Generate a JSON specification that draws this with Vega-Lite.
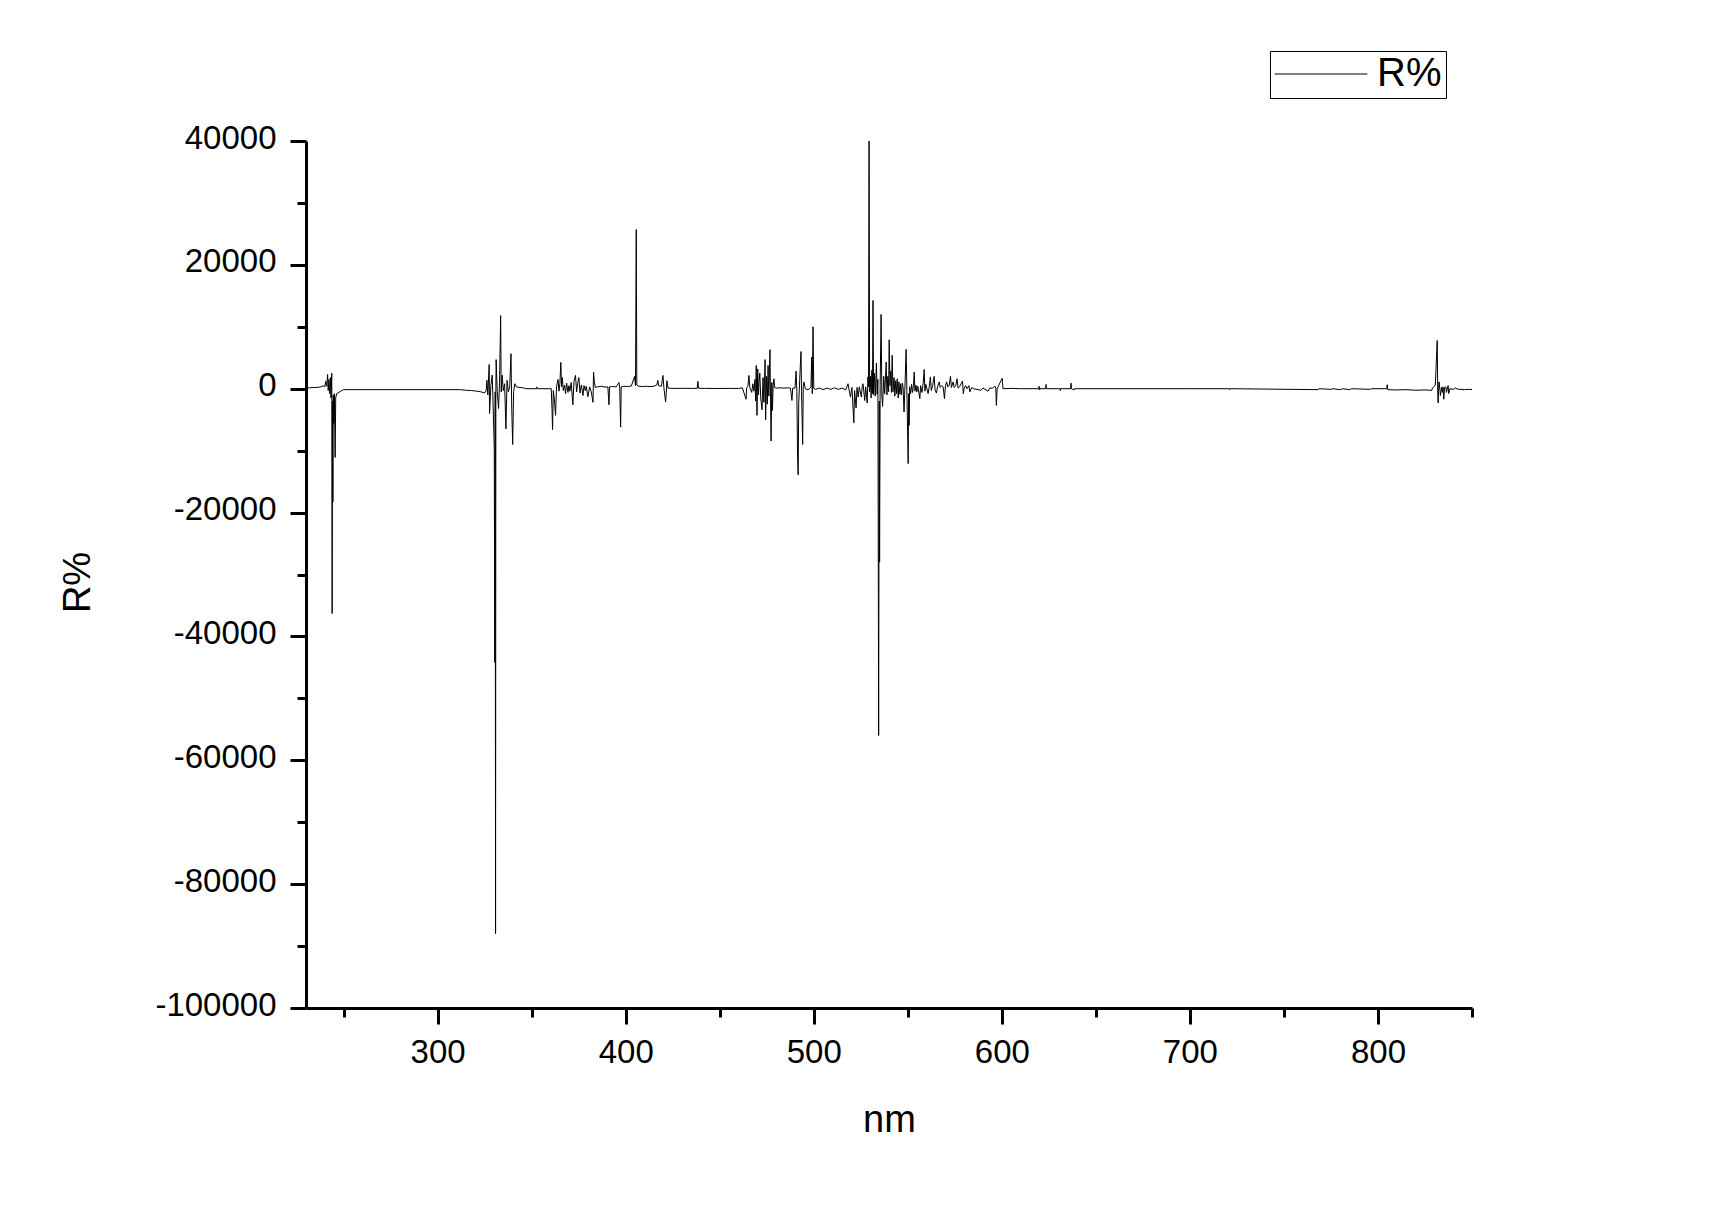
{
  "$schema": "https://vega.github.io/schema/vega-lite/v6.json",
  "autosize": {"type": "none"},
  "width": 1166,
  "height": 867,
  "padding": {"left": 306, "top": 141, "right": 238, "bottom": 201},
  "background": "white",
  "config": {
    "view": {"stroke": null},
    "font": "Liberation Sans",
    "axis": {
      "domainColor": "black",
      "domainWidth": 3,
      "tickColor": "black",
      "tickWidth": 3,
      "labelColor": "black",
      "titleColor": "black",
      "labelFont": "Liberation Sans",
      "titleFont": "Liberation Sans",
      "labelFontSize": 33,
      "titleFontSize": 38,
      "titleFontWeight": "normal",
      "grid": false,
      "labelFlush": false,
      "labelOverlap": false
    }
  },
  "data": {"values": [
    {"nm":230,"R":100},{"nm":232,"R":150},{"nm":234,"R":200},{"nm":236,"R":200},{"nm":238,"R":300},{"nm":239,"R":500},{"nm":240,"R":300},{"nm":240.5,"R":1200},{"nm":241,"R":400},{"nm":241.5,"R":2300},{"nm":241.8,"R":-300},{"nm":242.2,"R":1500},{"nm":242.6,"R":-800},{"nm":243,"R":1800},{"nm":243.3,"R":-1500},{"nm":243.7,"R":2500},{"nm":243.9,"R":-36300},{"nm":244.1,"R":-2000},{"nm":244.3,"R":-18300},{"nm":244.5,"R":-1000},{"nm":244.8,"R":-5600},{"nm":245.1,"R":-800},{"nm":245.5,"R":-11100},{"nm":245.8,"R":-1500},{"nm":246.3,"R":-800},{"nm":247,"R":-700},{"nm":248,"R":-500},{"nm":249,"R":-300},{"nm":250,"R":-150},
    {"nm":312,"R":-150},{"nm":315,"R":-250},{"nm":318,"R":-300},{"nm":321,"R":-400},{"nm":323,"R":-500},{"nm":325,"R":-700},{"nm":325.8,"R":-300},{"nm":326.2,"R":1350},{"nm":326.7,"R":-1000},{"nm":327.4,"R":3900},{"nm":327.6,"R":-4000},{"nm":328.3,"R":500},{"nm":329,"R":2200},{"nm":329.4,"R":-1500},{"nm":330.1,"R":-9700},{"nm":330.4,"R":-44200},{"nm":330.6,"R":-500},{"nm":330.8,"R":-88000},{"nm":330.95,"R":-1000},{"nm":331.1,"R":4700},{"nm":331.7,"R":-500},{"nm":332.4,"R":-3200},{"nm":332.9,"R":1000},{"nm":333.5,"R":11800},{"nm":333.8,"R":-500},{"nm":334.3,"R":2200},{"nm":334.9,"R":-300},{"nm":335.6,"R":800},{"nm":336.3,"R":-6500},{"nm":336.9,"R":1350},{"nm":337.6,"R":-500},{"nm":338.3,"R":300},{"nm":339,"R":5650},{"nm":339.4,"R":-3200},{"nm":339.9,"R":-9000},{"nm":340.4,"R":-500},{"nm":341,"R":800},{"nm":341.9,"R":300},{"nm":343.7,"R":200},{"nm":345.5,"R":150},{"nm":347,"R":0},{"nm":352.5,"R":0},{"nm":352.7,"R":300},{"nm":352.9,"R":0},
    {"nm":360.4,"R":0},{"nm":360.8,"R":-3200},{"nm":361.1,"R":-6600},{"nm":361.5,"R":-300},{"nm":362,"R":-1500},{"nm":362.7,"R":-4300},{"nm":363.2,"R":300},{"nm":364,"R":1500},{"nm":364.5,"R":-400},{"nm":365,"R":800},{"nm":365.5,"R":4250},{"nm":365.9,"R":300},{"nm":366.3,"R":1800},{"nm":366.8,"R":-300},{"nm":367.5,"R":600},{"nm":368,"R":-800},{"nm":368.6,"R":900},{"nm":369.3,"R":-600},{"nm":369.8,"R":500},{"nm":370.3,"R":-400},{"nm":371,"R":1000},{"nm":371.9,"R":-2600},{"nm":372.5,"R":1200},{"nm":373.3,"R":2150},{"nm":373.9,"R":-500},{"nm":374.4,"R":800},{"nm":375.1,"R":1800},{"nm":375.7,"R":-700},{"nm":376.4,"R":600},{"nm":377.3,"R":-1100},{"nm":377.8,"R":500},{"nm":378.5,"R":-300},{"nm":379,"R":400},{"nm":379.9,"R":-1300},{"nm":380.8,"R":300},{"nm":381.7,"R":-500},{"nm":382.6,"R":-2200},{"nm":382.9,"R":2700},{"nm":383.3,"R":1200},{"nm":383.8,"R":200},
    {"nm":385,"R":300},{"nm":387,"R":400},{"nm":389,"R":250},{"nm":390.5,"R":300},{"nm":391.1,"R":-2600},{"nm":391.4,"R":300},{"nm":393,"R":350},{"nm":395,"R":300},{"nm":396.4,"R":1000},{"nm":396.8,"R":300},{"nm":397.3,"R":-6200},{"nm":397.6,"R":300},{"nm":399,"R":400},{"nm":401,"R":350},{"nm":403,"R":450},{"nm":404.7,"R":2000},{"nm":405.2,"R":500},{"nm":405.6,"R":25700},{"nm":405.9,"R":600},{"nm":407,"R":400},{"nm":409,"R":350},{"nm":411,"R":400},{"nm":413,"R":350},{"nm":415,"R":400},{"nm":416.5,"R":600},{"nm":417.1,"R":1350},{"nm":417.5,"R":500},{"nm":419,"R":400},{"nm":419.8,"R":2150},{"nm":420.3,"R":200},{"nm":421.2,"R":-2150},{"nm":421.6,"R":-600},{"nm":421.9,"R":1300},{"nm":422.5,"R":100},{"nm":425,"R":50},{"nm":430,"R":60},{"nm":435,"R":50},{"nm":438,"R":60},{"nm":438.4,"R":1200},{"nm":438.7,"R":80},{"nm":442,"R":50},{"nm":448,"R":40},{"nm":455,"R":50},{"nm":460,"R":40},
    {"nm":462,"R":150},{"nm":464,"R":-1700},{"nm":464.3,"R":100},{"nm":465,"R":400},{"nm":465.5,"R":2150},{"nm":466,"R":200},{"nm":467,"R":-600},{"nm":467.6,"R":800},{"nm":468.2,"R":-400},{"nm":468.7,"R":1500},{"nm":469.1,"R":-2000},{"nm":469.4,"R":3750},{"nm":469.8,"R":-4300},{"nm":470.2,"R":3200},{"nm":470.6,"R":-1000},{"nm":470.9,"R":1200},{"nm":471.3,"R":2500},{"nm":471.8,"R":-1500},{"nm":472.5,"R":-3400},{"nm":473,"R":1800},{"nm":473.5,"R":-2200},{"nm":474.1,"R":4700},{"nm":474.4,"R":-5000},{"nm":474.9,"R":2000},{"nm":475.3,"R":-2500},{"nm":475.7,"R":3750},{"nm":476.1,"R":-1200},{"nm":476.7,"R":6300},{"nm":477,"R":-1500},{"nm":477.3,"R":-8450},{"nm":477.7,"R":1000},{"nm":478,"R":-3500},{"nm":478.4,"R":500},{"nm":478.8,"R":1600},{"nm":479.2,"R":200},{"nm":480,"R":100},{"nm":482,"R":150},{"nm":484,"R":100},{"nm":486,"R":150},{"nm":487.6,"R":100},{"nm":488.4,"R":-1900},{"nm":488.8,"R":100},{"nm":490,"R":100},{"nm":490.6,"R":2850},{"nm":491,"R":-500},{"nm":491.4,"R":-11300},{"nm":491.7,"R":-13900},{"nm":492,"R":-2300},{"nm":492.5,"R":1350},{"nm":493.2,"R":6000},{"nm":493.5,"R":-500},{"nm":493.8,"R":-4600},{"nm":494.1,"R":-9000},{"nm":494.4,"R":300},{"nm":494.8,"R":1100},{"nm":495.5,"R":0},{"nm":497,"R":-200},{"nm":498.5,"R":300},{"nm":498.9,"R":5100},{"nm":499.2,"R":-800},{"nm":499.6,"R":10000},{"nm":500,"R":0},
    {"nm":501,"R":-100},{"nm":503,"R":100},{"nm":505,"R":-150},{"nm":507,"R":100},{"nm":509,"R":-100},{"nm":511,"R":150},{"nm":513,"R":-100},{"nm":515,"R":100},{"nm":517,"R":-200},{"nm":518.2,"R":800},{"nm":519.5,"R":-1350},{"nm":520.3,"R":200},{"nm":521.3,"R":-5500},{"nm":521.7,"R":-300},{"nm":522.5,"R":-3100},{"nm":523,"R":200},{"nm":523.6,"R":-1350},{"nm":524.2,"R":300},{"nm":525.3,"R":-1350},{"nm":525.8,"R":500},{"nm":526.2,"R":800},{"nm":527.1,"R":-1900},{"nm":527.6,"R":300},{"nm":528.4,"R":-2300},{"nm":528.8,"R":1900},{"nm":529.1,"R":300},{"nm":529.4,"R":40000},{"nm":529.7,"R":-500},{"nm":530.1,"R":2000},{"nm":530.5,"R":-1500},{"nm":530.9,"R":3000},{"nm":531.2,"R":-800},{"nm":531.5,"R":14250},{"nm":531.8,"R":-1000},{"nm":532.2,"R":2500},{"nm":532.7,"R":-1200},{"nm":533.3,"R":4150},{"nm":533.7,"R":-900},{"nm":534.1,"R":1500},{"nm":534.5,"R":-56000},{"nm":534.8,"R":-2000},{"nm":535,"R":-28000},{"nm":535.3,"R":500},{"nm":535.8,"R":12000},{"nm":536.2,"R":-1000},{"nm":536.6,"R":-2850},{"nm":537.2,"R":2000},{"nm":537.7,"R":-800},{"nm":538.1,"R":1500},{"nm":538.5,"R":4300},{"nm":538.9,"R":-1000},{"nm":539.4,"R":2000},{"nm":539.8,"R":-500},{"nm":540.1,"R":7900},{"nm":540.5,"R":500},{"nm":540.9,"R":2850},{"nm":541.3,"R":-600},{"nm":541.7,"R":5400},{"nm":542.1,"R":-500},{"nm":542.7,"R":1800},{"nm":543.1,"R":-1200},{"nm":543.6,"R":1300},{"nm":544,"R":-800},{"nm":544.4,"R":1600},{"nm":544.9,"R":-1500},{"nm":545.3,"R":1100},{"nm":545.8,"R":-900},{"nm":546.2,"R":800},{"nm":546.6,"R":-1000},{"nm":547.1,"R":900},{"nm":547.5,"R":200},{"nm":548,"R":-3750},{"nm":548.5,"R":600},{"nm":549.1,"R":6350},{"nm":549.5,"R":-300},{"nm":550.2,"R":-12100},{"nm":550.45,"R":-800},{"nm":550.7,"R":-5900},{"nm":551,"R":300},{"nm":551.5,"R":-800},{"nm":552,"R":700},{"nm":552.5,"R":-600},{"nm":553,"R":500},{"nm":553.4,"R":2700},{"nm":553.8,"R":-400},{"nm":554.3,"R":600},{"nm":554.8,"R":-500},{"nm":555.3,"R":400},{"nm":556.4,"R":-1600},{"nm":556.8,"R":500},{"nm":557.5,"R":-600},{"nm":558.2,"R":900},{"nm":558.7,"R":3100},{"nm":559.1,"R":-400},{"nm":559.6,"R":700},{"nm":560.8,"R":-800},{"nm":561.4,"R":300},{"nm":562,"R":1900},{"nm":562.5,"R":-300},{"nm":563.2,"R":500},{"nm":564,"R":2000},{"nm":564.5,"R":-200},{"nm":565.2,"R":-700},{"nm":565.8,"R":300},{"nm":566.7,"R":1100},{"nm":567.2,"R":200},{"nm":568,"R":500},{"nm":568.8,"R":300},{"nm":569.5,"R":-1600},{"nm":570,"R":400},{"nm":570.6,"R":1100},{"nm":571.3,"R":300},{"nm":572,"R":500},{"nm":572.7,"R":2000},{"nm":573.2,"R":200},{"nm":574.1,"R":1100},{"nm":574.7,"R":200},{"nm":575.5,"R":500},{"nm":576.2,"R":1600},{"nm":576.7,"R":100},{"nm":577.5,"R":300},{"nm":579.1,"R":1250},{"nm":579.5,"R":-800},{"nm":580,"R":100},{"nm":580.8,"R":500},{"nm":581.5,"R":0},{"nm":582.5,"R":500},{"nm":583,"R":-500},{"nm":584,"R":200},{"nm":585,"R":0},{"nm":588.8,"R":-250},{"nm":590,"R":100},{"nm":592.7,"R":-400},{"nm":593.5,"R":100},{"nm":595,"R":100},{"nm":596.4,"R":400},{"nm":596.8,"R":100},{"nm":597.1,"R":-2700},{"nm":597.5,"R":0},{"nm":600.2,"R":1700},{"nm":600.6,"R":0},
    {"nm":605,"R":50},{"nm":610,"R":0},{"nm":619.6,"R":0},{"nm":619.8,"R":400},{"nm":620,"R":-200},{"nm":620.3,"R":0},{"nm":623.3,"R":0},{"nm":623.5,"R":700},{"nm":623.7,"R":0},{"nm":631,"R":0},{"nm":631.1,"R":-300},{"nm":631.3,"R":0},{"nm":636.6,"R":0},{"nm":636.8,"R":900},{"nm":637,"R":0},{"nm":638.4,"R":-200},{"nm":638.6,"R":0},{"nm":700,"R":0},{"nm":721,"R":0},{"nm":721.2,"R":-150},{"nm":721.4,"R":0},{"nm":768.2,"R":-150},{"nm":768.5,"R":0},{"nm":775,"R":-100},{"nm":776,"R":0},{"nm":780,"R":-150},{"nm":781,"R":0},{"nm":785,"R":-150},{"nm":786,"R":0},{"nm":796,"R":-100},{"nm":796.3,"R":0},{"nm":804.7,"R":0},{"nm":804.9,"R":650},{"nm":805.2,"R":-150},{"nm":810,"R":-200},{"nm":815,"R":-150},{"nm":820,"R":-250},{"nm":825,"R":-200},{"nm":827.6,"R":-250},{"nm":828.5,"R":-300},{"nm":829,"R":100},{"nm":830.5,"R":600},{"nm":831.5,"R":7800},{"nm":831.8,"R":-800},{"nm":832,"R":-2300},{"nm":832.3,"R":300},{"nm":832.5,"R":1100},{"nm":833,"R":-300},{"nm":833.2,"R":-1100},{"nm":833.8,"R":200},{"nm":834.3,"R":-600},{"nm":834.6,"R":300},{"nm":835,"R":-1700},{"nm":835.4,"R":200},{"nm":836.1,"R":300},{"nm":836.4,"R":-600},{"nm":837.3,"R":500},{"nm":837.6,"R":-800},{"nm":838.2,"R":0},{"nm":840,"R":-100},{"nm":841.4,"R":150},{"nm":842,"R":-50},{"nm":843.5,"R":-100},{"nm":846,"R":-150},{"nm":848,"R":-100},{"nm":850,"R":-150}
  ]},
  "mark": {"type": "line", "strokeWidth": 1, "clip": true},
  "encoding": {
    "x": {
      "field": "nm",
      "type": "quantitative",
      "scale": {"domain": [230, 850], "nice": false, "zero": false},
      "axis": {
        "title": "nm",
        "values": [250, 300, 350, 400, 450, 500, 550, 600, 650, 700, 750, 800, 850],
        "labelExpr": "datum.value % 100 === 0 ? '' + datum.value : ''",
        "tickSize": {"condition": {"test": "datum.value % 100 === 0", "value": 16}, "value": 9},
        "labelPadding": 12,
        "titlePadding": 32
      }
    },
    "y": {
      "field": "R",
      "type": "quantitative",
      "scale": {"domain": [-100000, 40000], "nice": false, "zero": false},
      "axis": {
        "title": "R%",
        "values": [-100000, -90000, -80000, -70000, -60000, -50000, -40000, -30000, -20000, -10000, 0, 10000, 20000, 30000, 40000],
        "labelExpr": "datum.value % 20000 === 0 ? '' + datum.value : ''",
        "tickSize": {"condition": {"test": "datum.value % 20000 === 0", "value": 16}, "value": 9},
        "labelPadding": 14,
        "labelOffset": -3,
        "titlePadding": 57,
        "titleY": 441
      }
    },
    "color": {
      "datum": "R%",
      "type": "nominal",
      "scale": {"range": ["#000000"]},
      "legend": {
        "title": null,
        "orient": "none",
        "legendX": 964,
        "legendY": -90,
        "symbolType": "stroke",
        "symbolSize": 8600,
        "symbolStrokeWidth": 1,
        "clipHeight": 38,
        "labelFontSize": 40,
        "labelFont": "Liberation Sans",
        "labelColor": "black",
        "labelOffset": 9,
        "padding": 4,
        "strokeColor": "black",
        "fillColor": "white"
      }
    }
  }
}
